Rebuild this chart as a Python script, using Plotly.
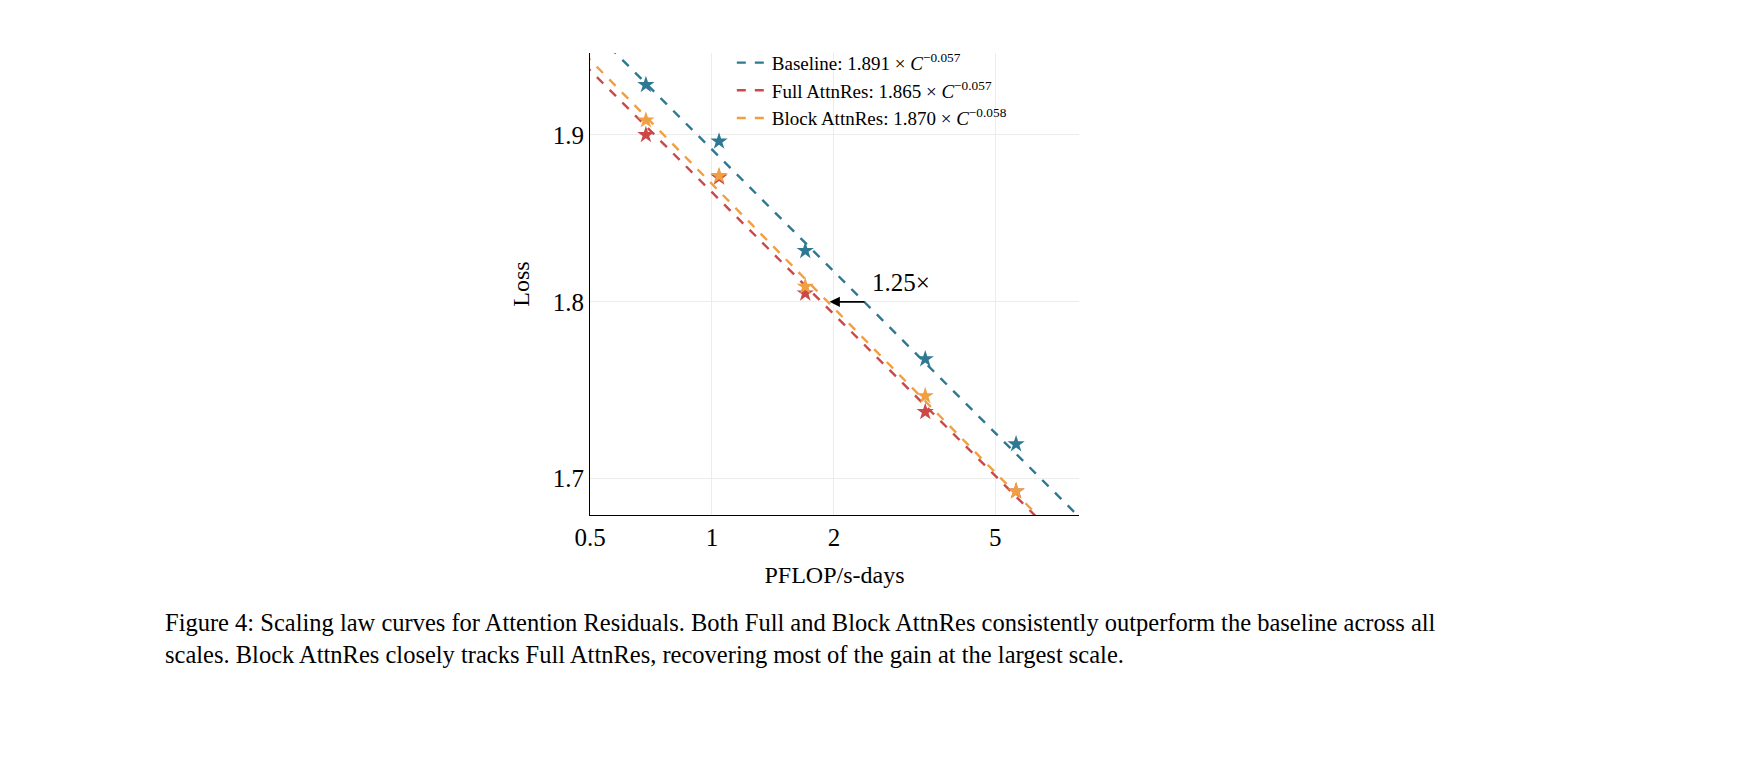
import numpy as np
import plotly.graph_objects as go

compute = [0.687, 1.041, 1.699, 3.36, 5.63]
baseline = [1.931, 1.896, 1.830, 1.767, 1.719]
full = [1.900, 1.874, 1.805, 1.737, 1.693]
block = [1.909, 1.875, 1.809, 1.746, 1.693]
fits = {"Baseline": (1.891, 0.057), "Full AttnRes": (1.865, 0.057), "Block AttnRes": (1.870, 0.058)}
colors = {"Baseline": "#2f7893", "Full AttnRes": "#cc4848", "Block AttnRes": "#f0a042"}
series = {"Baseline": baseline, "Full AttnRes": full, "Block AttnRes": block}

xs = np.geomspace(0.45, 9, 200)
fig = go.Figure()
for name, (a, b) in fits.items():
    fig.add_trace(go.Scatter(x=xs, y=a * xs ** (-b), mode="lines",
                             line=dict(color=colors[name], dash="dash", width=2.4),
                             name=f"{name}: {a:.3f} × <i>C</i><sup>−{b:.3f}</sup>"))
for name, vals in series.items():
    fig.add_trace(go.Scatter(x=compute, y=vals, mode="markers", showlegend=False,
                             marker=dict(symbol="star", size=13, color=colors[name])))

fig.add_annotation(x=np.log10(1.95), y=np.log10(1.8), ax=np.log10(2.4), ay=np.log10(1.8),
                   xref="x", yref="y", axref="x", ayref="y", text="", showarrow=True,
                   arrowhead=2, arrowsize=1.3, arrowwidth=1.6, arrowcolor="black")
fig.add_annotation(x=np.log10(2.45), y=np.log10(1.8), text="1.25×", showarrow=False,
                   xanchor="left", yanchor="bottom", yshift=4, font=dict(size=25))
fig.add_annotation(x=-0.873, y=-0.268, xref="paper", yref="paper", xanchor="left",
                   yanchor="middle", align="left", showarrow=False, font=dict(size=24.5),
                   text="Figure 4: Scaling law curves for Attention Residuals. Both Full and Block AttnRes consistently outperform the baseline across all<br>scales. Block AttnRes closely tracks Full AttnRes, recovering most of the gain at the largest scale.")

fig.update_layout(
    width=1746, height=757, margin=dict(l=582, r=675, t=45, b=250),
    paper_bgcolor="white", plot_bgcolor="white",
    font=dict(family="Liberation Serif", size=25, color="black"),
    legend=dict(x=0.29, y=1.02, xanchor="left", yanchor="top", bgcolor="rgba(0,0,0,0)",
                font=dict(size=19), tracegroupgap=2),
    xaxis=dict(type="log", range=[np.log10(0.5), np.log10(8.05)], tickvals=[0.5, 1, 2, 5],
               ticktext=["0.5", "1", "2", "5"], showgrid=True, gridcolor="#ececec",
               showline=True, linecolor="black", ticks="", 
               title=dict(text="PFLOP/s-days", standoff=16, font=dict(size=24))),
    yaxis=dict(type="log", range=[np.log10(1.680), np.log10(1.951)], tickvals=[1.7, 1.8, 1.9],
               ticktext=["1.7", "1.8", "1.9"], showgrid=True, gridcolor="#ececec",
               showline=True, linecolor="black", ticks="",
               title=dict(text="Loss", standoff=16, font=dict(size=24))),
)
fig.write_html("out.html")
